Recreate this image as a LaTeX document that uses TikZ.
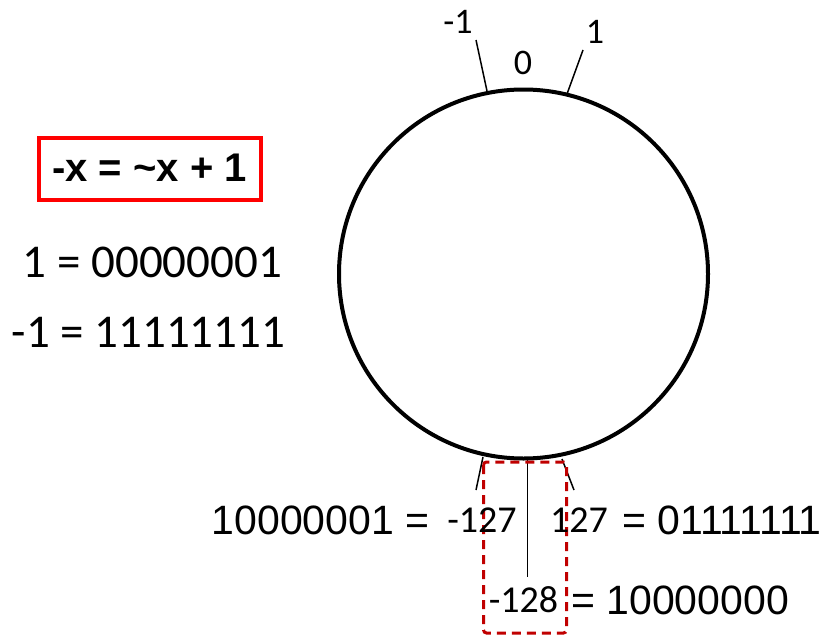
\documentclass[tikz,border=0pt]{standalone}
\usepackage{fontspec}
\setmainfont{Carlito}
\newfontfamily\arialf{Liberation Sans}
\definecolor{boxred}{RGB}{255,0,0}
\definecolor{dashred}{RGB}{192,0,0}
\begin{document}
\begin{tikzpicture}[x=1pt,y=-1pt,
  lbl/.style={inner sep=0pt,outer sep=0pt,anchor=center},
  big/.style={lbl,font=\fontsize{47}{56}\selectfont},
  arl/.style={lbl,font=\arialf\fontsize{41}{49}\selectfont},
  mid/.style={lbl,font=\fontsize{38}{45}\selectfont},
  small/.style={lbl,font=\fontsize{36}{43}\selectfont},
  tick/.style={line width=1.5pt},
  ringstyle/.style={draw,circle,line width=4pt,minimum size=369pt,inner sep=0pt}]
\useasboundingbox (0,0) rectangle (824,637);
\node[ringstyle] (ring) at (523.5,274) {};
% top labels and ticks
\node[small] (m1) at (458,22) {-1};
\node[small] (z0) at (523,63) {0};
\node[small] (p1) at (595,32) {1};
\coordinate (tla) at (487,91);
\coordinate (tlb) at (476,40);
\coordinate (tra) at (567,94);
\coordinate (trb) at (583,50);
\draw[tick] (tla) -- (tlb);
\draw[tick] (tra) -- (trb);
% bottom ticks
\coordinate (bla) at (483,457);
\coordinate (blb) at (476,490);
\coordinate (bra) at (562,459);
\coordinate (brb) at (574,490);
\coordinate (bma) at (527.5,457);
\coordinate (bmb) at (527.5,577);
\draw[tick] (bla) -- (blb);
\draw[tick] (bra) -- (brb);
\draw[tick] (bma) -- (bmb);
% dashed box
\draw[dashred,line width=3pt,dash pattern=on 9pt off 6pt,rounded corners=3pt] (483.5,462) rectangle (566.5,633);
% bottom labels
\node[mid] (n127) at (482,520) {-127};
\node[mid] (p127) at (579,520) {127};
\node[mid] (n128) at (523.5,600) {-128};
\node[arl] (bn127) at (320.5,520) {10000001 =};
\node[arl] (bp127) at (722,520) {= 01111111};
\node[arl] (bn128) at (680,600) {= 10000000};
% left
\node[lbl,font=\arialf\bfseries\fontsize{40}{48}\selectfont] (form) at (149.5,168) {-x = \textasciitilde x + 1};
\draw[boxred,line width=4pt] (39,138) rectangle (261,200);
\node[big] (one) at (152.5,262) {1 = 00000001};
\node[big] (mone) at (148.5,332) {-1 = 11111111};
\end{tikzpicture}
\end{document}
